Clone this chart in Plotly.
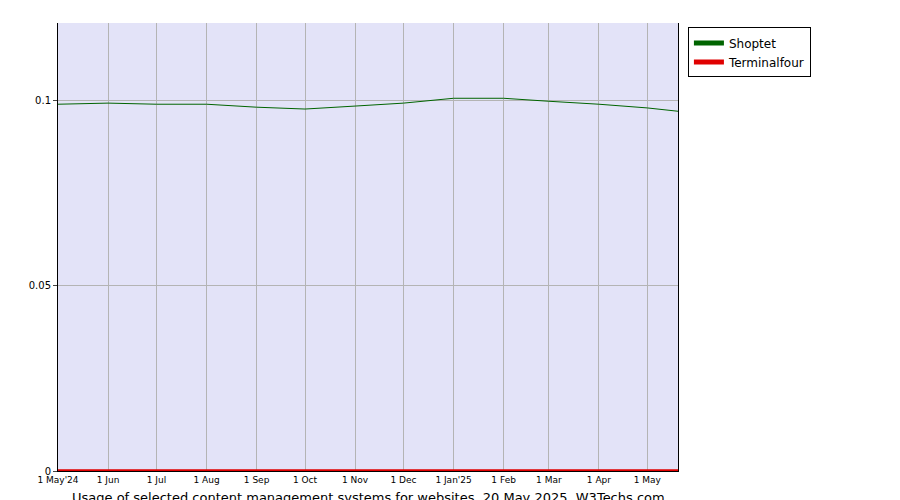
import plotly.graph_objects as go

dates = ["2024-05-01","2024-06-01","2024-07-01","2024-08-01","2024-09-01","2024-10-01","2024-11-01",
         "2024-12-01","2025-01-01","2025-02-01","2025-03-01","2025-04-01","2025-05-01","2025-05-20"]
shoptet = [0.0989,0.0992,0.0989,0.0989,0.0981,0.0976,0.0984,0.0992,0.1005,0.1005,0.0997,0.0989,0.0979,0.0970]
terminalfour = [0.0002]*14
tick_vals = dates[:13]
tick_text = ["1 May'24","1 Jun","1 Jul","1 Aug","1 Sep","1 Oct","1 Nov","1 Dec","1 Jan'25","1 Feb","1 Mar","1 Apr","1 May"]

fig = go.Figure()
fig.add_trace(go.Scatter(x=dates, y=shoptet, mode="lines", name="Shoptet", line=dict(color="#006400", width=1)))
fig.add_trace(go.Scatter(x=dates, y=terminalfour, mode="lines", name="Terminalfour", line=dict(color="#e00000", width=2)))

fig.update_layout(
    width=900, height=500, margin=dict(l=50, r=230, t=15, b=37, autoexpand=False),
    plot_bgcolor="#e3e3f8", paper_bgcolor="white",
    font=dict(family="DejaVu Sans", size=11, color="black"),
    showlegend=True,
    legend=dict(x=1.016, y=0.99, xanchor="left", yanchor="top", bgcolor="white",
                bordercolor="black", borderwidth=1, font=dict(size=12),
                itemwidth=30, tracegroupgap=0, itemsizing="constant"),
)
fig.update_xaxes(range=["2024-05-01","2025-05-20"], tickvals=tick_vals, ticktext=tick_text,
                 tickfont=dict(size=9), showgrid=True, gridcolor="#b4b4b4", automargin=False,
                 showline=True, linecolor="black", ticks="", zeroline=False)
fig.update_yaxes(range=[0, 0.1208], tickvals=[0, 0.05, 0.1], ticktext=["0","0.05","0.1"],
                 tickfont=dict(size=10), showgrid=True, gridcolor="#b4b4b4", automargin=False,
                 showline=True, mirror=True, linecolor="black", ticks="outside", ticklen=4, zeroline=False)
fig.add_annotation(text="Usage of selected content management systems for websites, 20 May 2025, W3Techs.com",
                   xref="paper", yref="paper", x=0.5, y=0, yshift=-17, yanchor="top", showarrow=False,
                   font=dict(size=13))
fig.write_html("out.html")
